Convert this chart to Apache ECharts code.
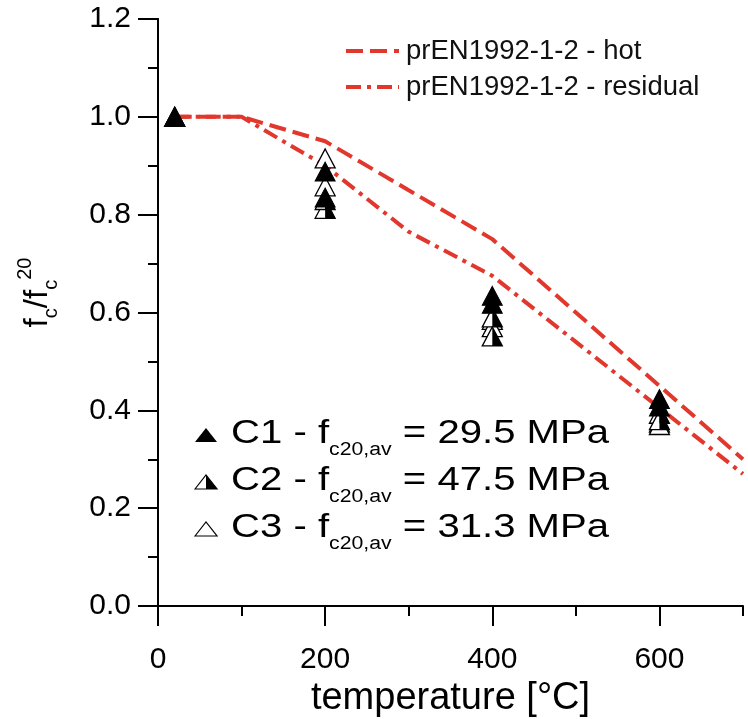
<!DOCTYPE html>
<html><head><meta charset="utf-8">
<script src="https://cdn.jsdelivr.net/npm/echarts@6/dist/echarts.min.js"></script>
<style>html,body{margin:0;padding:0;background:#fff}#c{width:748px;height:719px}</style>
</head><body><div id="c"></div>
<script>
// ---- data ----
const curveTemps = [20, 100, 200, 300, 400, 500, 600, 700];
const hotVals = [1.0, 1.0, 0.95, 0.85, 0.75, 0.60, 0.45, 0.30];
const residualVals = [1.0, 1.0, 0.90, 0.765, 0.675, 0.54, 0.405, 0.27];

const c1Temps = [20, 200, 200, 400, 400, 600, 600];
const c1Vals = [1.0, 0.888, 0.835, 0.634, 0.618, 0.423, 0.408];
const c2Temps = [20, 200, 200, 400, 400, 600, 600];
const c2Vals = [1.0, 0.812, 0.83, 0.59, 0.551, 0.393, 0.38];
const c3Temps = [20, 200, 200, 400, 400, 600, 600];
const c3Vals = [1.0, 0.915, 0.858, 0.585, 0.57, 0.375, 0.37];

const xMajorTicks = [0, 200, 400, 600];
const lineNames = ['prEN1992-1-2 - hot', 'prEN1992-1-2 - residual'];
const mixNames = ['C1', 'C2', 'C3'];
const mixStrengths = ['29.5', '47.5', '31.3'];

// ---- build ----
const pairs = (xs, ys) => xs.map((x, i) => [x, ys[i]]);
const FONT = '"Liberation Sans", Arial, Helvetica, sans-serif';
const RED = '#e2372c';
const TRI = [20, 19];

const chart = echarts.init(document.getElementById('c'), null, {renderer: 'canvas'});

const legendGraphics = [];
mixNames.forEach((n, i) => {
  const dy = i * 47;
  const pts = [[195, 442 + dy], [206, 428 + dy], [217, 442 + dy]];
  if (i === 0) {
    legendGraphics.push({type: 'polygon', shape: {points: pts}, style: {fill: '#000'}});
  } else {
    legendGraphics.push({type: 'polygon', shape: {points: pts}, style: {fill: '#fff', stroke: '#000', lineWidth: 1.2}});
    if (i === 1) {
      legendGraphics.push({type: 'polygon', shape: {points: [[206, 428 + dy], [217, 442 + dy], [206, 442 + dy]]}, style: {fill: '#000'}});
    }
  }
  legendGraphics.push({
    type: 'text', x: 231, y: 409 + dy, scaleX: 1.18, originX: 0, originY: 0,
    style: {
      text: '{m|' + n + ' - f}{s|c20,av}{m| = ' + mixStrengths[i] + ' MPa}',
      verticalAlign: 'top', align: 'left', fill: '#000',
      rich: {
        m: {fontSize: 34, fontFamily: FONT, lineHeight: 50, fill: '#000'},
        s: {fontSize: 18, fontFamily: FONT, lineHeight: 10, verticalAlign: 'bottom', fill: '#000'}
      }
    }
  });
});

const option = {
  backgroundColor: '#fff',
  animation: false,
  grid: {left: 158, right: 5, top: 19, bottom: 113, outerBoundsMode: 'none', containLabel: false},
  legend: {
    data: lineNames,
    orient: 'vertical',
    left: 339, top: 31,
    itemWidth: 53, itemHeight: 14, itemGap: 6,
    itemStyle: {opacity: 0, color: 'rgba(0,0,0,0)', borderWidth: 0},
    lineStyle: {width: 4},
    textStyle: {fontSize: 27.5, fontFamily: FONT, color: '#111', lineHeight: 30, padding: [0, 0, 0, 2]}
  },
  xAxis: [{
    type: 'value', min: 0, max: 700, interval: 100,
    name: 'temperature [°C]', nameLocation: 'middle', nameGap: 70,
    nameTextStyle: {fontSize: 38, fontFamily: FONT, color: '#000'},
    axisLine: {show: true, onZero: false, lineStyle: {color: '#000', width: 2}},
    axisTick: {show: true, length: 10, lineStyle: {color: '#000', width: 2}},
    splitLine: {show: false},
    axisLabel: {fontSize: 30, fontFamily: FONT, color: '#000', margin: 39,
      formatter: v => (xMajorTicks.indexOf(v) >= 0 ? String(v) : '')}
  }, {
    type: 'value', min: 0, max: 700, interval: 200, position: 'bottom',
    axisLine: {show: false},
    axisTick: {show: true, length: 20, customValues: xMajorTicks, lineStyle: {color: '#000', width: 2}},
    axisLabel: {show: false}, splitLine: {show: false}
  }],
  yAxis: [{
    type: 'value', min: 0, max: 1.2, interval: 0.2,
    name: '{f|f}{s|c}{f|/f}{s|c}{p|20}', nameLocation: 'middle', nameGap: 97, nameRotate: 90,
    nameTextStyle: {
      padding: [0, 0, 0, 40],
      rich: {
        f: {fontSize: 33, fontFamily: FONT, color: '#000', lineHeight: 46},
        s: {fontSize: 20, fontFamily: FONT, color: '#000', lineHeight: 12, verticalAlign: 'bottom'},
        p: {fontSize: 20, fontFamily: FONT, color: '#000', lineHeight: 12, verticalAlign: 'top'}
      }
    },
    axisLine: {show: true, onZero: false, lineStyle: {color: '#000', width: 2}},
    axisTick: {show: true, length: 20, lineStyle: {color: '#000', width: 2}},
    minorTick: {show: true, splitNumber: 2, length: 10, lineStyle: {color: '#000', width: 2}},
    splitLine: {show: false}, minorSplitLine: {show: false},
    axisLabel: {fontSize: 30, fontFamily: FONT, color: '#000', margin: 27, formatter: v => v.toFixed(1)}
  }, {
    type: 'value', min: 0, max: 1.2, interval: 0.2, position: 'right',
    axisLine: {show: true, lineStyle: {color: '#000', width: 2}},
    axisTick: {show: false}, axisLabel: {show: false}, splitLine: {show: false}
  }],
  series: [
    {name: lineNames[0], type: 'line', data: pairs(curveTemps, hotVals), symbol: 'none', z: 2,
      lineStyle: {color: RED, width: 4, type: [17, 7]}, itemStyle: {color: RED}},
    {name: lineNames[1], type: 'line', data: pairs(curveTemps, residualVals), symbol: 'none', z: 2,
      lineStyle: {color: RED, width: 4, type: [15, 6, 4, 6]}, itemStyle: {color: RED}},
    {name: 'C3', type: 'scatter', data: pairs(c3Temps, c3Vals), symbol: 'triangle', symbolSize: TRI, z: 3,
      itemStyle: {color: '#fff', borderColor: '#000', borderWidth: 1.3, opacity: 1}},
    {name: 'C2', type: 'scatter', data: pairs(c2Temps, c2Vals), symbol: 'triangle', symbolSize: TRI, z: 4,
      itemStyle: {color: '#fff', borderColor: '#000', borderWidth: 1.3, opacity: 1}},
    {name: 'C2 half', type: 'scatter', data: pairs(c2Temps, c2Vals), symbol: 'path://M0,0L1,2L0,2Z',
      symbolSize: [10, 19], symbolOffset: [5, 0], symbolKeepAspect: false, z: 5,
      itemStyle: {color: '#000', opacity: 1}},
    {name: 'C1', type: 'scatter', data: pairs(c1Temps, c1Vals), symbol: 'triangle', symbolSize: TRI, z: 6,
      itemStyle: {color: '#000', borderColor: '#000', borderWidth: 1, opacity: 1}}
  ],
  graphic: legendGraphics
};
chart.setOption(option);
</script></body></html>
